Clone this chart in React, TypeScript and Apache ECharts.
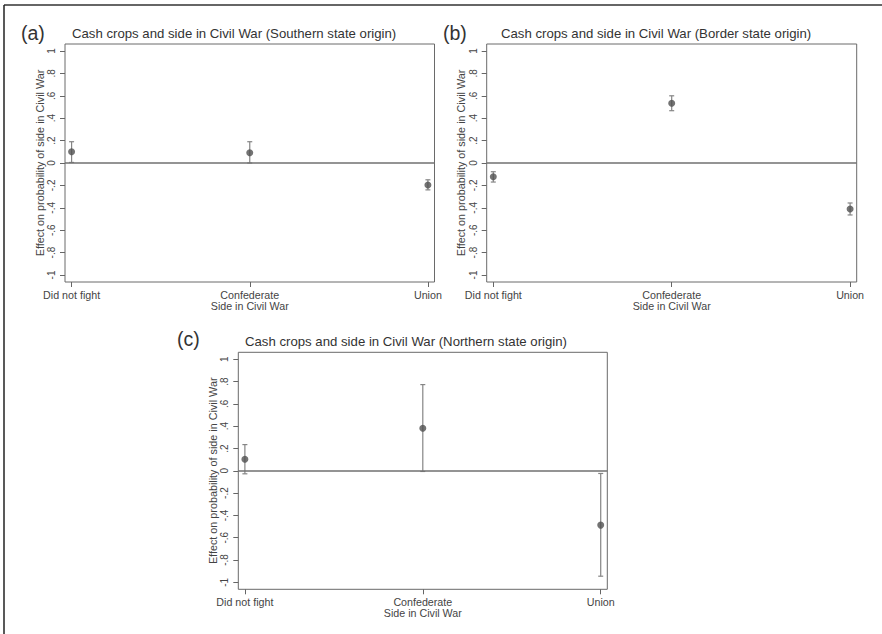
import React, { useEffect, useRef } from "react";
import * as echarts from "echarts";

const categories = ["Did not fight", "Confederate", "Union"];
const yTicks = [-1, -0.8, -0.6, -0.4, -0.2, 0, 0.2, 0.4, 0.6, 0.8, 1];
const yTickLabels = ["-1", "-.8", "-.6", "-.4", "-.2", "0", ".2", ".4", ".6", ".8", "1"];

const panelLetters = ["(a)", "(b)", "(c)"];
const panelTitles = [
  "Cash crops and side in Civil War (Southern state origin)",
  "Cash crops and side in Civil War (Border state origin)",
  "Cash crops and side in Civil War (Northern state origin)",
];
const yAxisTitle = "Effect on probability of side in Civil War";
const xAxisTitle = "Side in Civil War";

const southernEst = [0.1, 0.092, -0.196];
const southernLo = [0.005, 0.0, -0.24];
const southernHi = [0.19, 0.19, -0.15];

const borderEst = [-0.122, 0.533, -0.41];
const borderLo = [-0.17, 0.467, -0.464];
const borderHi = [-0.078, 0.6, -0.357];

const northernEst = [0.104, 0.381, -0.487];
const northernLo = [-0.027, -0.006, -0.945];
const northernHi = [0.235, 0.773, -0.024];

const FONT = "'Liberation Sans', Arial, Helvetica, sans-serif";

export default function App() {
  const ref = useRef<HTMLDivElement>(null);

  useEffect(() => {
    document.body.style.margin = "0";
    if (!ref.current) return;
    const chart = echarts.init(ref.current, null, { renderer: "svg" });

    const grids = [
      { left: 65, top: 44, width: 369.5, height: 238 },
      { left: 486.7, top: 44, width: 370, height: 238 },
      { left: 238.3, top: 352.3, width: 369, height: 237 },
    ];
    const ests = [southernEst, borderEst, northernEst];
    const los = [southernLo, borderLo, northernLo];
    const his = [southernHi, borderHi, northernHi];
    const letterPos = [
      { left: 21, top: 23 },
      { left: 443, top: 23 },
      { left: 177, top: 329 },
    ];
    const titlePos = [
      { left: 72, top: 27 },
      { left: 501, top: 26.5 },
      { left: 245, top: 334.5 },
    ];

    const title: any[] = [];
    const xAxis: any[] = [];
    const yAxis: any[] = [];
    const series: any[] = [];

    grids.forEach((g, k) => {
      title.push({
        text: panelLetters[k],
        left: letterPos[k].left,
        top: letterPos[k].top,
        padding: 0,
        textStyle: { fontFamily: FONT, fontSize: 19.5, fontWeight: "normal", color: "#333" },
      });
      title.push({
        text: panelTitles[k],
        left: titlePos[k].left,
        top: titlePos[k].top,
        padding: 0,
        textStyle: { fontFamily: FONT, fontSize: 13.2, fontWeight: "normal", color: "#333" },
      });
      xAxis.push({
        type: "value",
        gridIndex: k,
        min: -0.037,
        max: 2.037,
        name: xAxisTitle,
        nameLocation: "middle",
        nameGap: 18.5,
        nameMoveOverlap: false,
        nameTextStyle: { fontFamily: FONT, fontSize: 10.7, color: "#444" },
        axisLine: { show: false, onZero: false },
        splitLine: { show: false },
        axisTick: {
          show: true,
          customValues: [0, 1, 2],
          length: 5,
          lineStyle: { color: "#666", width: 1 },
        },
        axisLabel: {
          customValues: [0, 1, 2],
          margin: 7.5,
          fontFamily: FONT,
          fontSize: 10.7,
          color: "#444",
          formatter: (v: number) => categories[Math.round(v)] ?? "",
        },
      });
      yAxis.push({
        type: "value",
        gridIndex: k,
        min: -1.0625,
        max: 1.0625,
        name: yAxisTitle,
        nameLocation: "middle",
        nameGap: 20,
        nameMoveOverlap: false,
        nameTextStyle: { fontFamily: FONT, fontSize: 10.8, color: "#444" },
        axisLine: { show: false, onZero: false },
        splitLine: { show: false },
        axisTick: {
          show: true,
          customValues: yTicks,
          length: 5,
          lineStyle: { color: "#666", width: 1 },
        },
        axisLabel: {
          customValues: yTicks,
          rotate: 90,
          margin: 8.5,
          fontFamily: FONT,
          fontSize: 10,
          color: "#444",
          formatter: (v: number) => {
            const i = yTicks.findIndex((t) => Math.abs(t - v) < 1e-6);
            return i >= 0 ? yTickLabels[i] : "";
          },
        },
      });
      series.push({
        type: "custom",
        xAxisIndex: k,
        yAxisIndex: k,
        data: categories.map((_, i) => [i, los[k][i], his[k][i]]),
        renderItem: (params: any, api: any) => {
          const x = api.value(0);
          const lo = api.coord([x, api.value(1)]);
          const hi = api.coord([x, api.value(2)]);
          const cap = 2.5;
          const style = { stroke: "#858585", lineWidth: 1.2 };
          return {
            type: "group",
            children: [
              { type: "line", shape: { x1: lo[0], y1: lo[1], x2: hi[0], y2: hi[1] }, style },
              { type: "line", shape: { x1: lo[0] - cap, y1: lo[1], x2: lo[0] + cap, y2: lo[1] }, style },
              { type: "line", shape: { x1: hi[0] - cap, y1: hi[1], x2: hi[0] + cap, y2: hi[1] }, style },
            ],
          };
        },
        z: 2,
      });
      series.push({
        type: "scatter",
        xAxisIndex: k,
        yAxisIndex: k,
        data: categories.map((_, i) => [i, ests[k][i]]),
        symbol: "circle",
        symbolSize: 7,
        itemStyle: { color: "#505050" },
        z: 3,
        markLine: {
          silent: true,
          symbol: ["none", "none"],
          label: { show: false },
          lineStyle: { color: "#707070", width: 1.5, type: "solid" },
          data: [{ yAxis: 0 }],
        },
      });
    });

    chart.setOption({
      animation: false,
      backgroundColor: "#fff",
      title,
      grid: grids.map((g) => ({
        ...g,
        show: true,
        borderColor: "#6a6a6a",
        borderWidth: 1,
        backgroundColor: "transparent",
        containLabel: false,
      })),
      xAxis,
      yAxis,
      series,
      graphic: [
        { type: "line", shape: { x1: 4, y1: 5, x2: 882, y2: 5 }, style: { stroke: "#333", lineWidth: 1.5 } },
        { type: "line", shape: { x1: 4, y1: 5, x2: 4, y2: 634 }, style: { stroke: "#222", lineWidth: 1.5 } },
      ],
    });

    return () => chart.dispose();
  }, []);

  return <div ref={ref} style={{ width: 882, height: 634 }} />;
}
